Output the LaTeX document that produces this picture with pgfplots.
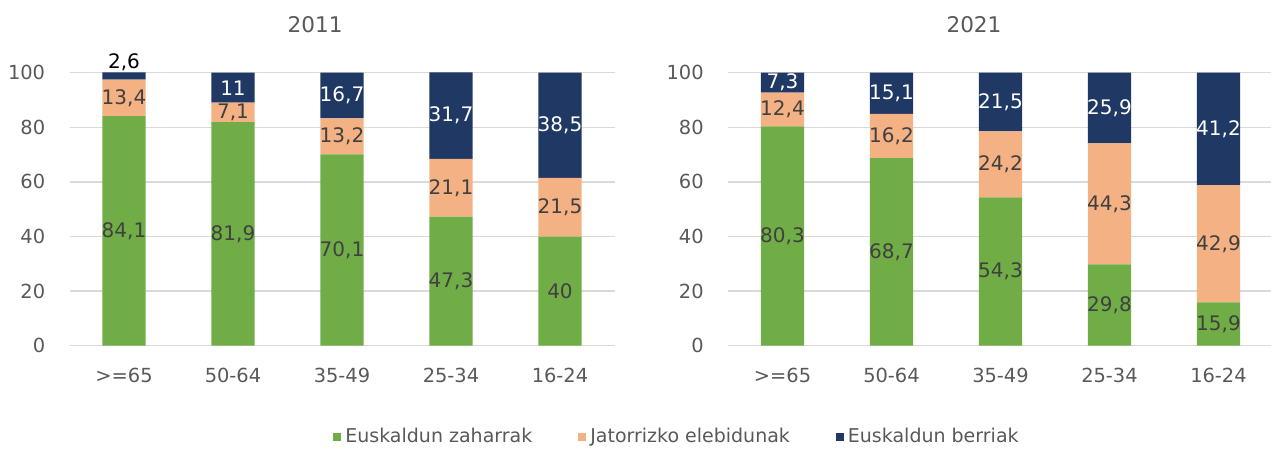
\documentclass[border=0pt]{standalone}
\usepackage{fontspec}
\setmainfont{DejaVu Sans}
\usepackage{pgfplots}
\usepackage{pgfplotstable}
\pgfplotsset{compat=1.18}
\definecolor{cgreen}{HTML}{70AD47}
\definecolor{corange}{HTML}{F4B183}
\definecolor{cnavy}{HTML}{203864}
\definecolor{cgrid}{HTML}{D9D9D9}
\definecolor{ctick}{HTML}{595959}
\definecolor{clabel}{HTML}{404040}
\pgfplotstableread{
x g o n
0 84.1 13.4 2.6
1 81.9 7.1 11
2 70.1 13.2 16.7
3 47.3 21.1 31.7
4 40 21.5 38.5
}\dataA
\pgfplotstableread{
x g o n
0 80.3 12.4 7.3
1 68.7 16.2 15.1
2 54.3 24.2 21.5
3 29.8 44.3 25.9
4 15.9 42.9 41.2
}\dataB
\pgfplotsset{
  mystyle/.style={
    width=272.5pt, height=136.5pt, scale only axis,
    anchor=south west,
    ybar stacked, bar width=21.7pt,
    ymin=0, ymax=100, ytick={0,20,...,100},
    xmin=-0.5, xmax=4.5, xtick={0,...,4},
    xticklabels={{>=65},{50-64},{35-49},{25-34},{16-24}},
    ymajorgrids, major grid style={cgrid, line width=0.75pt},
    axis line style={draw=none}, major tick length=0pt,
    tick label style={font=\fontsize{9.7}{11}\selectfont, text=ctick},
    /pgf/number format/assume math mode=true,
    /pgf/number format/use comma,
    y tick label style={anchor=east, inner sep=0pt, xshift=-12pt},
    x tick label style={anchor=center, yshift=-15pt, inner sep=0pt},
    title style={font=\fontsize{10.8}{12}\selectfont, text=ctick, anchor=center, yshift=18pt},
    nodes near coords={\pgfmathprintnumber{\segval}},
    every node near coord/.append style={font=\fontsize{10}{12}\selectfont, inner sep=0pt,
      anchor=center},
    clip=false,
  },
  greenbar/.style={fill=cgreen, draw=none, visualization depends on={\thisrow{g} \as \segval},
    every node near coord/.append style={text=clabel},
    legend image code/.code={\fill[cgreen] (0pt,-2pt) rectangle (4pt,2pt);}},
  orangebar/.style={fill=corange, draw=none, visualization depends on={\thisrow{o} \as \segval},
    every node near coord/.append style={text=clabel},
    legend image code/.code={\fill[corange] (0pt,-2pt) rectangle (4pt,2pt);}},
  navybar/.style={fill=cnavy, draw=none, visualization depends on={\thisrow{n} \as \segval},
    every node near coord/.append style={text=white},
    legend image code/.code={\fill[cnavy] (0pt,-2pt) rectangle (4pt,2pt);}},
}
\begin{document}
\begin{tikzpicture}
\useasboundingbox (0,0) rectangle (635.5pt,226pt);
\begin{axis}[mystyle, at={(34.75pt,53.15pt)}, title={2011}, title style={at={(0.4505,1)}},
  legend style={at={(1.1165,-0.3344)}, anchor=center, legend columns=3, draw=none, fill=none,
    font=\fontsize{9.5}{11}\selectfont, text=ctick,
    /tikz/every even column/.append style={column sep=21pt}}]
\addplot[greenbar] table[x=x, y=g] {\dataA};
\addplot[orangebar] table[x=x, y=o] {\dataA};
\addplot[navybar, visualization depends on={value \coordindex \as \myidx},
  every node near coord/.append style={/utils/exec={\ifnum\myidx=0\relax\def\myextra{6.8pt}\def\mycol{black}\else\def\myextra{0pt}\def\mycol{white}\fi},
    yshift=\myextra, text=\mycol}]
  table[x=x, y=n] {\dataA};
\legend{Euskaldun zaharrak, Jatorrizko elebidunak, Euskaldun berriak}
\end{axis}
\begin{axis}[mystyle, at={(364pt,53.15pt)}, width=271.4pt, xmax=4.48, title={2021}, title style={at={(0.4532,1)}}]
\addplot[greenbar] table[x=x, y=g] {\dataB};
\addplot[orangebar] table[x=x, y=o] {\dataB};
\addplot[navybar] table[x=x, y=n] {\dataB};
\end{axis}
\end{tikzpicture}
\end{document}
